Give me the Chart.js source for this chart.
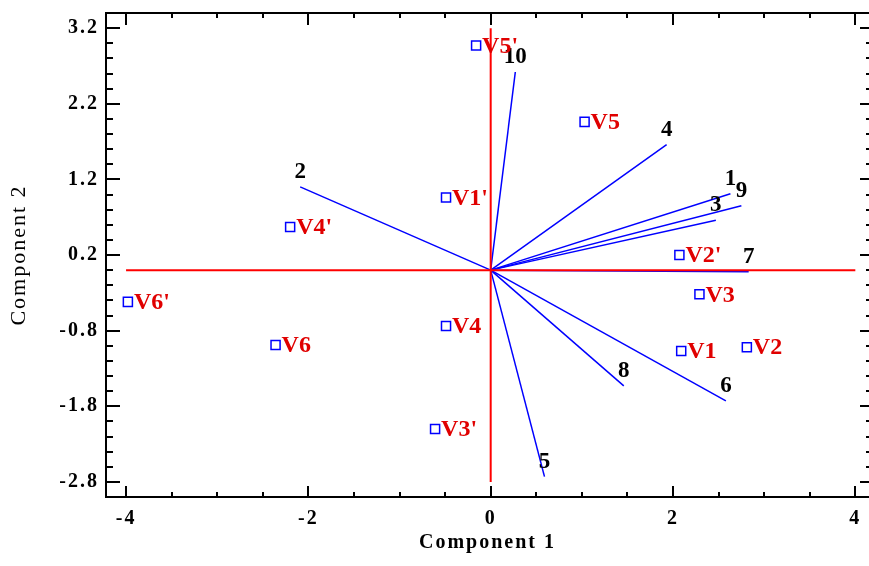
<!DOCTYPE html>
<html>
<head>
<meta charset="utf-8">
<script src="https://cdn.jsdelivr.net/npm/chart.js@4"></script>
<style>
  body { margin: 0; background: #fff; }
  canvas { display: block; }
</style>
</head>
<body>
<canvas id="biplot" width="869" height="566"></canvas>
<script>
// variable loadings (drawn as vectors from the origin)
const vecLabels = ['1', '2', '3', '4', '5', '6', '7', '8', '9', '10'];
const vecX = [2.63, -2.09, 2.47, 1.93, 0.59, 2.58, 2.83, 1.46, 2.75, 0.27];
const vecY = [1.01, 1.10, 0.66, 1.66, -2.73, -1.73, -0.02, -1.53, 0.85, 2.62];

// observation scores
const ptLabels = ["V5'", 'V5', "V1'", "V2'", 'V3', 'V4', 'V1', 'V2', "V3'", "V4'", 'V6', "V6'"];
const ptX = [-0.16, 1.03, -0.49, 2.07, 2.29, -0.49, 2.09, 2.81, -0.61, -2.20, -2.36, -3.98];
const ptY = [2.97, 1.96, 0.96, 0.20, -0.32, -0.74, -1.07, -1.02, -2.10, 0.57, -0.99, -0.42];

// reference cross through the origin
const hLineX = [-4, 4];
const vLineY = [-2.8, 3.2];

const xTickLabels = [-4, -2, 0, 2, 4];
const yTickLabels = [3.2, 2.2, 1.2, 0.2, -0.8, -1.8, -2.8];

const SERIF = "'Liberation Serif', 'Times New Roman', serif";

const datasets = [];
datasets.push({
  data: hLineX.map(x => ({ x, y: 0 })),
  showLine: true, borderColor: '#ff0000', borderWidth: 2, pointRadius: 0, order: 0
});
datasets.push({
  data: vLineY.map(y => ({ x: 0, y })),
  showLine: true, borderColor: '#ff0000', borderWidth: 2, pointRadius: 0, order: 0
});
vecLabels.forEach((lab, i) => {
  datasets.push({
    label: lab,
    data: [{ x: 0, y: 0 }, { x: vecX[i], y: vecY[i] }],
    showLine: true, borderColor: '#0000ff', borderWidth: 1.5, pointRadius: 0, order: 1
  });
});
datasets.push({
  label: 'scores',
  data: ptX.map((x, i) => ({ x, y: ptY[i] })),
  showLine: false, pointStyle: 'rect', pointRadius: 6.4,
  borderColor: '#0000ff', borderWidth: 1.5, backgroundColor: 'rgba(0,0,0,0)', order: 0
});

function pixelTicks(ctx, area, xs, ys, xVals, yVals, lenB, lenT, lenL, lenR) {
  ctx.beginPath();
  xVals.forEach(v => {
    const px = Math.round(xs.getPixelForValue(v));
    ctx.moveTo(px, area.bottom); ctx.lineTo(px, area.bottom - lenB);
    ctx.moveTo(px, area.top); ctx.lineTo(px, area.top + lenT);
  });
  yVals.forEach(v => {
    const py = Math.round(ys.getPixelForValue(v));
    ctx.moveTo(area.left, py); ctx.lineTo(area.left + lenL, py);
    ctx.moveTo(area.right + 1, py); ctx.lineTo(area.right + 1 - lenR, py);
  });
  ctx.stroke();
}

const frame = {
  id: 'frame',
  beforeDraw(chart) {
    chart.ctx.letterSpacing = '2px';
  },
  afterDatasetsDraw(chart) {
    const ctx = chart.ctx;
    ctx.save();
    ctx.letterSpacing = '0px';
    // vector numbers just above each tip
    ctx.font = 'bold 23px ' + SERIF;
    ctx.fillStyle = '#000';
    ctx.textAlign = 'center';
    ctx.textBaseline = 'middle';
    vecLabels.forEach((lab, i) => {
      const tip = chart.getDatasetMeta(i + 2).data[1];
      ctx.fillText(lab, tip.x, tip.y - 15);
    });
    // score names to the right of each square
    ctx.font = 'bold 24px ' + SERIF;
    ctx.fillStyle = '#e00000';
    ctx.textAlign = 'left';
    const pts = chart.getDatasetMeta(datasets.length - 1).data;
    ptLabels.forEach((lab, i) => {
      ctx.fillText(lab, pts[i].x + 6, pts[i].y + 1);
    });
    ctx.restore();
  },
  afterDraw(chart) {
    const { ctx, chartArea: a, scales: { x, y } } = chart;
    ctx.save();
    ctx.strokeStyle = '#000';
    ctx.lineWidth = 2;
    // right edge of the frame sits just past the canvas
    ctx.strokeRect(a.left, a.top, a.right + 2 - a.left, a.bottom - a.top);
    const xMinor = [], yMinor = [];
    for (let k = 0; k <= 16; k++) {
      const v = -4 + k * 0.5;
      if (!xTickLabels.includes(v)) xMinor.push(v);
    }
    for (let k = 0; k <= 30; k++) {
      const v = Math.round((-2.8 + k * 0.2) * 10) / 10;
      if (!yTickLabels.includes(v)) yMinor.push(v);
    }
    pixelTicks(ctx, a, x, y, xTickLabels, yTickLabels, 11, 12, 14, 10);
    pixelTicks(ctx, a, x, y, xMinor, yMinor, 5, 5, 7, 4);
    ctx.restore();
    ctx.letterSpacing = '0px';
  }
};

new Chart(document.getElementById('biplot'), {
  type: 'scatter',
  data: { datasets },
  options: {
    responsive: false,
    animation: false,
    devicePixelRatio: 1,
    layout: { autoPadding: false, padding: { top: 13, right: 0, left: 0, bottom: 0 } },
    plugins: { legend: { display: false }, tooltip: { enabled: false } },
    scales: {
      x: {
        min: -4.22, max: 4.15,
        grid: { display: false, drawTicks: false },
        border: { display: false },
        afterFit: s => { s.height = 69; s.paddingLeft = 0; s.paddingRight = 0; },
        afterBuildTicks: s => { s.ticks = xTickLabels.map(v => ({ value: v })); },
        ticks: {
          padding: 10, color: '#000',
          font: { family: SERIF, size: 20, weight: 'bold' },
          callback: v => String(v)
        },
        title: {
          display: true, text: 'Component 1', color: '#000',
          font: { family: SERIF, size: 20, weight: 'bold' },
          padding: { top: 0, bottom: 11 }
        }
      },
      y: {
        min: -3.0, max: 3.4,
        grid: { display: false, drawTicks: false },
        border: { display: false },
        afterFit: s => { s.width = 106; s.paddingTop = 0; s.paddingBottom = 0; },
        afterBuildTicks: s => { s.ticks = yTickLabels.map(v => ({ value: v })); },
        ticks: {
          padding: 7, color: '#000',
          font: { family: SERIF, size: 20, weight: 'bold' },
          callback: v => String(v)
        },
        title: {
          display: true, text: 'Component 2', color: '#000',
          font: { family: SERIF, size: 22, weight: 'normal' },
          padding: { top: 6, bottom: 0 }
        }
      }
    }
  },
  plugins: [frame]
});
</script>
</body>
</html>
